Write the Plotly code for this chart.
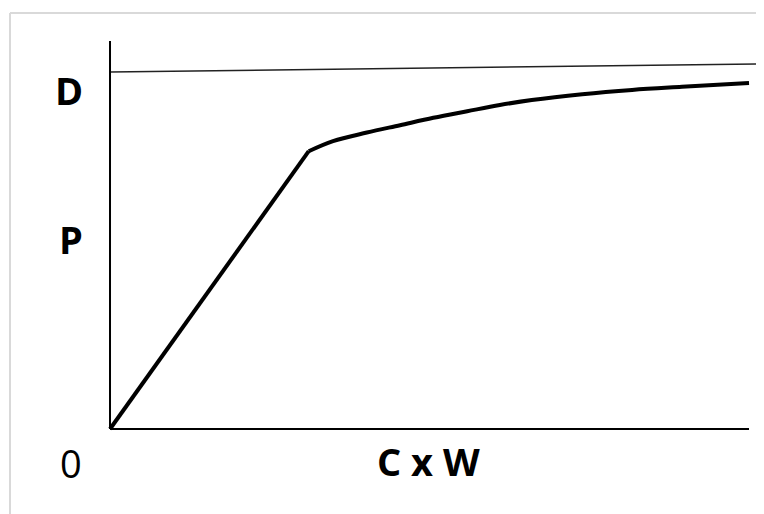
import plotly.graph_objects as go

# ---- data ----
rise_x = [0, 31.1]
rise_y = [0, 71.6]
curve_x = [31.1, 34.9, 40.2, 45.4, 50.6, 55.9, 61.0, 66.0, 73.9, 81.7, 89.5, 100]
curve_y = [71.6, 74.2, 76.4, 78.3, 80.2, 81.9, 83.5, 84.8, 86.3, 87.4, 88.2, 89.2]
d_line_x = [0, 102.35]
d_line_y = [92.0, 94.1]
x_axis_x = [0, 100]
x_axis_y = [0, 0]
y_axis_x = [0, 0]
y_axis_y = [0, 100]

OFF = 8  # page body margin
W, H = 764, 514
L, T = 104 - OFF, 41 - OFF
R = OFF
B = H - (433 - OFF)
XR = [-0.94, -0.94 + (W - L - R) / 6.39]
YR = [-1.03, 100]

fig = go.Figure()
fig.add_trace(go.Scatter(x=d_line_x, y=d_line_y, mode="lines",
                         line=dict(color="#222222", width=1.5), hoverinfo="skip"))
fig.add_trace(go.Scatter(x=x_axis_x, y=x_axis_y, mode="lines",
                         line=dict(color="black", width=2.2), hoverinfo="skip"))
fig.add_trace(go.Scatter(x=y_axis_x, y=y_axis_y, mode="lines",
                         line=dict(color="black", width=2), hoverinfo="skip"))
fig.add_trace(go.Scatter(x=rise_x, y=rise_y, mode="lines",
                         line=dict(color="black", width=4), hoverinfo="skip"))
fig.add_trace(go.Scatter(x=curve_x, y=curve_y, mode="lines",
                         line=dict(color="black", width=4, shape="spline", smoothing=1.0),
                         hoverinfo="skip"))

pw = W - L - R
ph = H - T - B
def px_to_paper_x(px):
    return (px - OFF - L) / pw
def py_to_paper_y(py):
    return 1 - (py - OFF - T) / ph

font_b = dict(family="Open Sans, Liberation Sans, sans-serif", size=38, color="black", weight="bold")
font_r = dict(family="Open Sans, Liberation Sans, sans-serif", size=38, color="black")

labels = [("D", 85, 90, "right", font_b),
          ("P", 85, 239, "right", font_b),
          ("0", 84, 463, "right", font_r),
          ("C x W", 428, 461, "center", font_b)]
for txt, px, py, xa, f in labels:
    fig.add_annotation(x=px_to_paper_x(px), y=py_to_paper_y(py), xref="paper", yref="paper",
                       text=txt, showarrow=False, xanchor=xa, yanchor="middle", font=f)

# light gray frame (only top & left edges visible in the reference), kept inside the window
frame = dict(color="#d9d9d9", width=2)
fig.add_shape(type="line", xref="paper", yref="paper",
              x0=px_to_paper_x(10), x1=px_to_paper_x(764),
              y0=py_to_paper_y(13), y1=py_to_paper_y(13), line=frame, layer="below")
fig.add_shape(type="line", xref="paper", yref="paper",
              x0=px_to_paper_x(10), x1=px_to_paper_x(10),
              y0=py_to_paper_y(13), y1=py_to_paper_y(514), line=frame, layer="below")

fig.update_layout(
    width=W, height=H,
    margin=dict(l=L, r=R, t=T, b=B, pad=0),
    plot_bgcolor="white", paper_bgcolor="white",
    showlegend=False,
    xaxis=dict(range=XR, visible=False, fixedrange=True),
    yaxis=dict(range=YR, visible=False, fixedrange=True),
)

fig.write_html("out.html")
